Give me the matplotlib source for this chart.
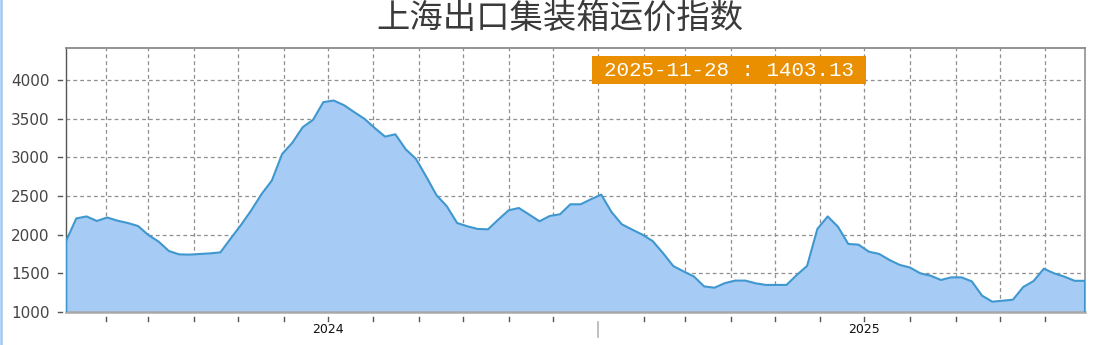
import matplotlib
matplotlib.use("Agg")
import matplotlib.pyplot as plt
import matplotlib.dates as mdates
import matplotlib.transforms as mtrans
from matplotlib.lines import Line2D
from matplotlib.patches import Rectangle
import pandas as pd

# ---- data ----
start_date = "2024-01-05"
n_weeks = 100
dates = pd.date_range(start_date, periods=n_weeks, freq="7D")
values = [
    1915, 2210, 2236, 2177, 2222, 2181, 2151, 2112, 1996, 1910,
    1788, 1745, 1742, 1750, 1758, 1771, 1950, 2125, 2315, 2525,
    2700, 3044, 3190, 3390, 3485, 3714, 3735, 3675, 3585, 3498,
    3378, 3268, 3298, 3105, 2980, 2750, 2510, 2367, 2151, 2108,
    2074, 2069, 2195, 2315, 2345, 2260, 2173, 2242, 2264, 2393,
    2393, 2458, 2518, 2293, 2134, 2066, 2000, 1917, 1762, 1594,
    1525, 1460, 1331, 1314, 1373, 1406, 1406, 1371, 1350, 1350,
    1350, 1479, 1596, 2074, 2236, 2103, 1880, 1871, 1780, 1751,
    1673, 1609, 1575, 1500, 1470, 1414, 1448, 1448, 1396, 1211,
    1133, 1146, 1159, 1323, 1400, 1560, 1500, 1457, 1403, 1403.13,
]
title = "上海出口集装箱运价指数"
y_ticks = [1000, 1500, 2000, 2500, 3000, 3500, 4000]
year_labels = ["2024", "2025"]
year_label_dates = ["2024-07-01", "2025-07-01"]
year_sep_date = "2025-01-01"
month_starts = pd.date_range("2024-02-01", "2025-11-01", freq="MS")
last_label = f"{dates[-1]:%Y-%m-%d} : {values[-1]:.2f}"

# ---- figure ----
W, H = 1100, 345
fig = plt.figure(figsize=(W / 100, H / 100), dpi=100)
ax_l, ax_r, ax_t, ax_b = 66, 1085, 48, 312
ax = fig.add_axes([ax_l / W, 1 - ax_b / H, (ax_r - ax_l) / W, (ax_b - ax_t) / H])
ax_wpx, ax_hpx = ax_r - ax_l, ax_b - ax_t

x = mdates.date2num(dates)
ymin, ymax = 1000, 4414
ax.set_xlim(x[0], x[-1])
ax.set_ylim(ymin, ymax)

ax.fill_between(x, ymin, values, color="#a6cbf5", zorder=2, linewidth=0)
ax.plot([x[0]] + list(x) + [x[-1]], [ymin] + list(values) + [ymin],
        color="#3f97cf", lw=1.5, zorder=3, solid_joinstyle="round")

# grid
mx = mdates.date2num(month_starts)
ax.set_yticks(y_ticks)
ax.set_xticks(mx)
ax.set_axisbelow(True)
ax.grid(True, color="#8f8f8f", linestyle=(0, (3, 2.5)), linewidth=0.9, zorder=0)
ax.tick_params(axis="both", which="major", length=0)
ax.tick_params(axis="x", which="major", labelbottom=False)
ax.tick_params(axis="y", labelsize=11, labelcolor="#444444", pad=12)

# year labels as minor ticks
ax.xaxis.remove_overlapping_locs = False
ax.set_xticks(mdates.date2num(pd.to_datetime(year_label_dates)), minor=True)
ax.set_xticklabels(year_labels, minor=True, fontsize=9, color="#111111")
ax.tick_params(axis="x", which="minor", length=0, pad=8, labelbottom=True)

# manual tick dashes with gap from axis
bx = mtrans.blended_transform_factory(ax.transData, ax.transAxes)
sep = mdates.date2num(pd.Timestamp(year_sep_date))
for m in mx:
    if abs(m - sep) < 0.5:
        ax.plot([m, m], [-10 / ax_hpx, -25 / ax_hpx], transform=bx, color="#b5b5b5",
                lw=1.2, clip_on=False)
    else:
        ax.plot([m, m], [-5 / ax_hpx, -9 / ax_hpx], transform=bx, color="#555555",
                lw=1.0, clip_on=False)
by = mtrans.blended_transform_factory(ax.transAxes, ax.transData)
for yt in y_ticks:
    ax.plot([-8 / ax_wpx, -4 / ax_wpx], [yt, yt], transform=by, color="#555555",
            lw=1.0, clip_on=False)

# spines
ax.spines["left"].set_color("#555555")
ax.spines["left"].set_linewidth(1.0)
ax.spines["top"].set_color("#8a8a8a")
ax.spines["top"].set_linewidth(1.3)
ax.spines["right"].set_color("#9a9a9a")
ax.spines["right"].set_linewidth(1.3)
ax.spines["bottom"].set_color("#a8a8a8")
ax.spines["bottom"].set_linewidth(1.8)

# value box
bx0, bx1, by0, by1 = 592, 866, 56, 84
ax.add_patch(Rectangle(((bx0 - ax_l) / ax_wpx, (ax_b - by1) / ax_hpx),
                       (bx1 - bx0) / ax_wpx, (by1 - by0) / ax_hpx,
                       transform=ax.transAxes, facecolor="#ea9000", edgecolor="none",
                       zorder=5, clip_on=False))
ax.text(((bx0 + bx1) / 2 - ax_l) / ax_wpx, (ax_b - (by0 + by1) / 2) / ax_hpx, last_label,
        transform=ax.transAxes, ha="center", va="center", color="white",
        fontsize=15, family=["Liberation Mono", "DejaVu Sans Mono"], zorder=6)

# title
fig.text(560 / W, 1 - 18 / H, title, ha="center", va="center", fontsize=24,
         fontweight="medium", color="#3a3a3a",
         family=["Noto Sans CJK SC", "DejaVu Sans"])

# left page border
fig.add_artist(Line2D([0.0012, 0.0012], [0, 1], transform=fig.transFigure,
                      color="#9ec9f5", lw=1.8))

fig.savefig("out.png", dpi=100)
